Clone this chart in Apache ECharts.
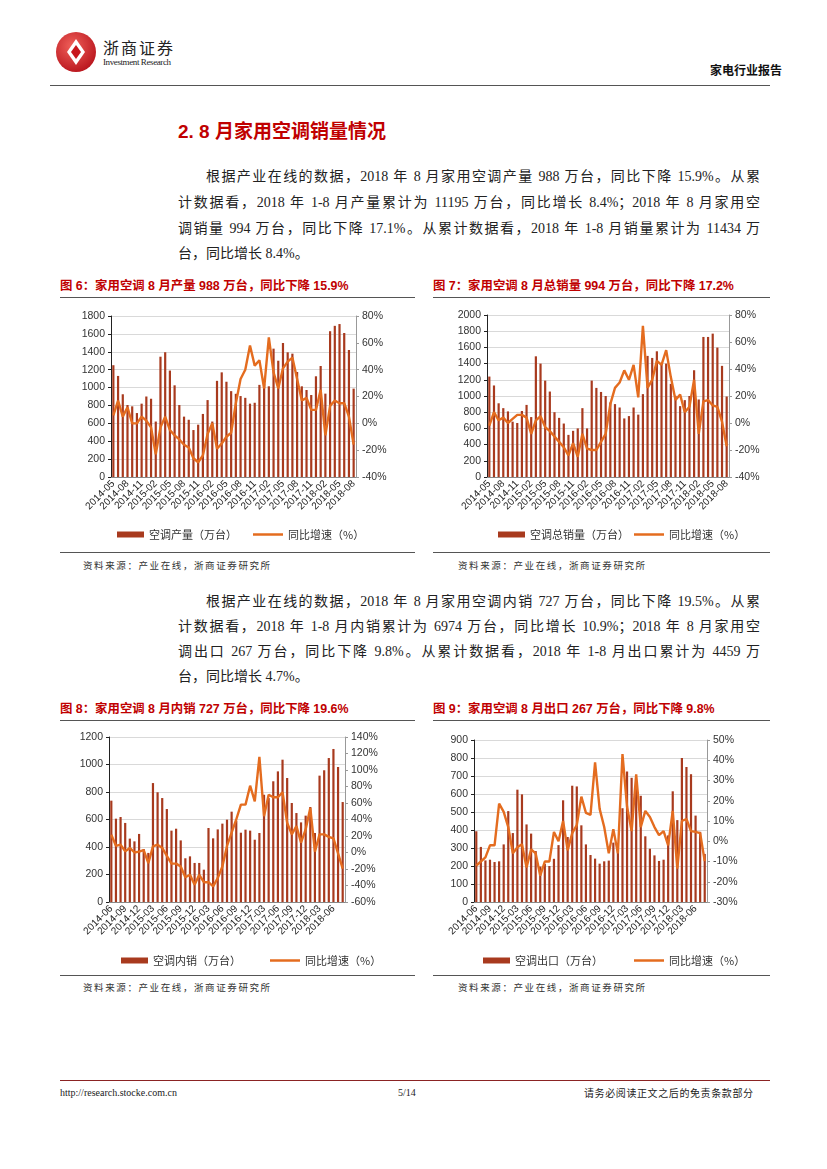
<!DOCTYPE html>
<html><head><meta charset="utf-8">
<script src="https://cdn.jsdelivr.net/npm/echarts@6/dist/echarts.min.js"></script>
<style>
html,body{margin:0;padding:0;background:#fff;}
body{width:827px;height:1169px;position:relative;overflow:hidden;font-family:"Liberation Serif","Noto Sans CJK SC",serif;color:#222;}
.a{position:absolute;white-space:nowrap;}
.hr{position:absolute;height:0;border-top:1px solid #555;}
.p{position:absolute;font-size:14px;line-height:18px;color:#222;font-family:"Liberation Serif","Noto Sans CJK SC",serif;text-align:justify;text-align-last:justify;white-space:nowrap;}
.ft{position:absolute;font-size:12.4px;line-height:14px;font-weight:bold;color:#C00000;font-family:"Liberation Sans","Noto Sans CJK SC",sans-serif;white-space:nowrap;}
.src{position:absolute;font-size:9.5px;line-height:12px;color:#333;letter-spacing:1.6px;font-family:"Noto Sans CJK SC",sans-serif;white-space:nowrap;}
.ch{position:absolute;}
</style></head>
<body>
<!-- header -->
<svg class="a" style="left:54px;top:30px" width="44" height="44" viewBox="0 0 44 44">
  <defs><radialGradient id="lg" cx="40%" cy="35%" r="70%"><stop offset="0" stop-color="#F0605A"/><stop offset="1" stop-color="#B8141C"/></radialGradient></defs>
  <circle cx="22" cy="22" r="20" fill="url(#lg)"/>
  <path d="M22 9 L31 22 L22 35 L13 22 Z" fill="#fff"/>
  <path d="M22 15 L27 22 L22 29 L17 22 Z" fill="#C8161D"/>
</svg>
<div class="a" style="left:103px;top:38px;font-size:16px;line-height:18px;font-family:'Noto Sans CJK SC';letter-spacing:2px;color:#222;">浙商证券</div>
<div class="a" style="left:103px;top:57px;font-size:9px;line-height:11px;font-family:'Liberation Serif';color:#222;letter-spacing:-0.4px;">Investment Research</div>
<div class="a" style="left:710px;top:62px;font-size:12px;line-height:15px;font-weight:bold;font-family:'Noto Sans CJK SC';color:#111;">家电行业报告</div>
<div class="hr" style="left:50px;top:85px;width:720px;border-top:1px solid #555;"></div>

<div class="a" style="left:178px;top:120px;font-size:19px;line-height:24px;font-weight:bold;color:#C00000;font-family:'Liberation Sans','Noto Sans CJK SC';">2. 8 月家用空调销量情况</div>

<div class="p" style="left:206px;top:168px;width:554px;">根据产业在线的数据，2018 年 8 月家用空调产量 988 万台，同比下降 15.9%。从累</div>
<div class="p" style="left:178px;top:194px;width:582px;">计数据看，2018 年 1-8 月产量累计为 11195 万台，同比增长 8.4%；2018 年 8 月家用空</div>
<div class="p" style="left:178px;top:220px;width:582px;">调销量 994 万台，同比下降 17.1%。从累计数据看，2018 年 1-8 月销量累计为 11434 万</div>
<div class="p" style="left:178px;top:245px;text-align-last:auto;">台，同比增长 8.4%。</div>

<div class="ft" style="left:60px;top:279px;">图 6：家用空调 8 月产量 988 万台，同比下降 15.9%</div>
<div class="ft" style="left:433px;top:279px;">图 7：家用空调 8 月总销量 994 万台，同比下降 17.2%</div>
<div class="hr" style="left:60px;top:297px;width:355px;"></div>
<div class="hr" style="left:433px;top:297px;width:337px;"></div>

<div id="c1" class="ch" style="left:20px;top:300px;width:400px;height:250px;"></div>
<div id="c2" class="ch" style="left:420px;top:300px;width:365px;height:250px;"></div>

<div class="hr" style="left:60px;top:552px;width:355px;"></div>
<div class="hr" style="left:433px;top:552px;width:337px;"></div>
<div class="src" style="left:83px;top:559px;">资料来源：产业在线，浙商证券研究所</div>
<div class="src" style="left:458px;top:559px;">资料来源：产业在线，浙商证券研究所</div>

<div class="p" style="left:206px;top:593px;width:554px;">根据产业在线的数据，2018 年 8 月家用空调内销 727 万台，同比下降 19.5%。从累</div>
<div class="p" style="left:178px;top:618px;width:582px;">计数据看，2018 年 1-8 月内销累计为 6974 万台，同比增长 10.9%；2018 年 8 月家用空</div>
<div class="p" style="left:178px;top:643px;width:582px;">调出口 267 万台，同比下降 9.8%。从累计数据看，2018 年 1-8 月出口累计为 4459 万</div>
<div class="p" style="left:178px;top:668px;text-align-last:auto;">台，同比增长 4.7%。</div>

<div class="ft" style="left:60px;top:702px;">图 8：家用空调 8 月内销 727 万台，同比下降 19.6%</div>
<div class="ft" style="left:433px;top:702px;">图 9：家用空调 8 月出口 267 万台，同比下降 9.8%</div>
<div class="hr" style="left:60px;top:720px;width:355px;"></div>
<div class="hr" style="left:433px;top:720px;width:337px;"></div>

<div id="c3" class="ch" style="left:20px;top:722px;width:400px;height:250px;"></div>
<div id="c4" class="ch" style="left:420px;top:722px;width:365px;height:250px;"></div>

<div class="hr" style="left:60px;top:975px;width:355px;"></div>
<div class="hr" style="left:433px;top:975px;width:337px;"></div>
<div class="src" style="left:83px;top:981px;">资料来源：产业在线，浙商证券研究所</div>
<div class="src" style="left:458px;top:981px;">资料来源：产业在线，浙商证券研究所</div>

<div class="hr" style="left:60px;top:1080px;width:710px;border-top:1px solid #8B2323;"></div>
<div class="a" style="left:60px;top:1087px;font-size:10px;line-height:12px;font-family:'Liberation Serif';">http://research.stocke.com.cn</div>
<div class="a" style="left:398px;top:1087px;font-size:10px;line-height:12px;font-family:'Liberation Serif';">5/14</div>
<div class="a" style="left:584px;top:1087px;font-size:10px;line-height:12px;font-family:'Noto Sans CJK SC';letter-spacing:0.6px;">请务必阅读正文之后的免责条款部分</div>

<script>
// ---- categories ----
const monthsA = ['2014-05','2014-06','2014-07','2014-08','2014-09','2014-10','2014-11','2014-12',
 '2015-01','2015-02','2015-03','2015-04','2015-05','2015-06','2015-07','2015-08','2015-09','2015-10','2015-11','2015-12',
 '2016-01','2016-02','2016-03','2016-04','2016-05','2016-06','2016-07','2016-08','2016-09','2016-10','2016-11','2016-12',
 '2017-01','2017-02','2017-03','2017-04','2017-05','2017-06','2017-07','2017-08','2017-09','2017-10','2017-11','2017-12',
 '2018-01','2018-02','2018-03','2018-04','2018-05','2018-06','2018-07','2018-08'];
const monthsB = ['2014-06','2014-07','2014-08','2014-09','2014-10','2014-11','2014-12',
 '2015-01','2015-02','2015-03','2015-04','2015-05','2015-06','2015-07','2015-08','2015-09','2015-10','2015-11','2015-12',
 '2016-01','2016-02','2016-03','2016-04','2016-05','2016-06','2016-07','2016-08','2016-09','2016-10','2016-11','2016-12',
 '2017-01','2017-02','2017-03','2017-04','2017-05','2017-06','2017-07','2017-08','2017-09','2017-10','2017-11','2017-12',
 '2018-01','2018-02','2018-03','2018-04','2018-05','2018-06','2018-07','2018-08'];
// tick labels are shown on every third month, starting from the first category
const LABEL_STEP = 3;

// ---- Fig 6: production ----
const prodVol = [1250,1130,925,805,790,715,820,900,875,620,
 1345,1395,1190,1025,805,675,640,525,585,705,
 860,620,1075,1170,1065,960,930,905,885,820,
 830,1030,1040,1014,1435,1300,1498,1394,1379,1174,
 1014,973,917,1126,1241,932,1630,1690,1710,1610,
 1420,988];
const prodYoY = [6,17,5,12,0,0,5,2,-3,-23,
 -3,5,-5,-9,-12,-16,-18,-26,-29,-24,
 -8,0,-19,-15,-10,-7,15,33,40,58,
 43,47,26,64,38,26,41,46,49,33,
 17,19,10,10,25,-9,13,17,15,15,
 5,-15.9];

// ---- Fig 7: total sales ----
const salesVol = [1240,1130,910,850,810,683,667,815,890,740,
 1490,1400,1190,1055,800,730,660,520,570,600,
 850,600,1190,1100,1050,1000,920,900,858,723,
 752,858,770,1023,1495,1470,1552,1400,1400,1150,
 1002,875,949,1000,1318,957,1729,1729,1770,1598,
 1372,994];
const salesYoY = [-2,8,2,4,0,3,6,6,4,-8,
 2,5,-3,-6,-10,-14,-18,-24,-15,-25,
 -8,-19,-20,-20,-14,-8,14,26,30,39,
 32,43,19,72,26,32,46,43,54,34,
 17,21,8,12,32,-8,16,17,13,12,
 1,-17.2];

// ---- Fig 8: domestic ----
const domVol = [737,606,618,575,461,441,495,385,357,865,
 798,756,676,519,533,448,318,332,284,284,
 235,538,463,528,570,599,657,590,504,526,
 519,453,502,780,756,878,950,1035,902,720,
 647,579,628,691,502,919,958,1047,1113,982,
 727];
const domYoY = [21.6,8,9.5,1.4,5.5,0,1,3,-13,7.5,
 9.5,5.5,-4,-13.5,-13.5,-17,-30,-27,-39,-27,
 -36,-36,-41,-31,-17,8,24,40,58,58,
 81,62,116,44,70,67,67,73,36,22,
 32,12,28,54,1,22,22,19,17,-1,
 -19.6];

// ---- Fig 9: export ----
const expVol = [393,306,231,235,222,226,320,505,383,624,
 598,431,380,283,197,212,200,240,316,565,
 361,646,642,426,320,261,241,213,226,230,
 330,317,521,725,690,674,590,365,296,259,
 228,235,370,615,455,800,750,710,480,390,
 267];
const expYoY = [-12,-10,-8,-2,-2,18.6,14.5,7,-6,-3,
 -1.5,-13,-4,-6,-17,-10,-10,4.6,0,10,
 -4.5,4,8,22,14,13,39,16,7,-6,
 6,-6,43,17,5,33,7,15,12,7,
 3,5,-2,15,-13.5,10,11,5,4.6,4,
 -9.8];

const BAR = '#A83A1E', LINE = '#E46C1F';
const AXF = 'Liberation Sans';

function build(id, c) {
  const ch = echarts.init(document.getElementById(id));
  const lgText = {fontSize: 11, color: '#333', fontFamily: 'Noto Sans CJK SC'};
  ch.setOption({
    animation: false,
    grid: {left: c.grid[0], right: c.grid[1], top: c.grid[2], bottom: c.grid[3], containLabel: false},
    legend: [
      {data: [c.barName], left: c.leg[0], top: c.leg[2], padding: 0, icon: 'rect', itemWidth: 27, itemHeight: 6, textStyle: lgText},
      {data: [c.lineName], left: c.leg[1], top: c.leg[2], padding: 0, icon: 'rect', itemWidth: 30, itemHeight: 2.5, textStyle: lgText}
    ],
    xAxis: {
      type: 'category', data: c.cats,
      axisLine: {lineStyle: {color: '#888', width: 1}},
      axisTick: {interval: 2, length: 3, lineStyle: {color: '#888'}},
      axisLabel: {interval: 0, rotate: 45, fontSize: 10, color: '#222', fontFamily: AXF, margin: 5,
                  hideOverlap: false,
                  formatter: (v, i) => (i % LABEL_STEP === 0 ? v : '')}
    },
    yAxis: [
      {type: 'value', min: c.l[0], max: c.l[1], interval: c.l[2],
       axisLine: {show: true, lineStyle: {color: '#222'}},
       axisTick: {show: true, length: 3, lineStyle: {color: '#222'}},
       splitLine: {lineStyle: {color: '#D9D9D9'}},
       axisLabel: {fontSize: 10.5, color: '#333', fontFamily: AXF, margin: 6, formatter: v => String(v)}},
      {type: 'value', min: c.r[0], max: c.r[1], interval: c.r[2], position: 'right',
       axisLine: {show: true, lineStyle: {color: '#999'}},
       axisTick: {show: true, length: 3, lineStyle: {color: '#999'}},
       splitLine: {show: false},
       axisLabel: {fontSize: 10.5, color: '#333', fontFamily: AXF, margin: 6, formatter: v => v + '%'}}
    ],
    series: [
      {name: c.barName, type: 'bar', data: c.bar, barWidth: 2.2, itemStyle: {color: BAR}},
      {name: c.lineName, type: 'line', yAxisIndex: 1, data: c.line, symbol: 'none', lineStyle: {width: 2.4, color: LINE}, itemStyle: {color: LINE}}
    ]
  });
}

// chart divs: c1/c3 start at x=20, c2/c4 at x=420
build('c1', {cats: monthsA, bar: prodVol, line: prodYoY, barName: '空调产量（万台）', lineName: '同比增速（%）',
  grid: [91, 64, 16, 73], leg: [97, 233, 229], l: [0, 1800, 200], r: [-40, 80, 20]});
build('c2', {cats: monthsA, bar: salesVol, line: salesYoY, barName: '空调总销量（万台）', lineName: '同比增速（%）',
  grid: [67, 56, 15, 73], leg: [78, 214, 229], l: [0, 2000, 200], r: [-40, 80, 20]});
build('c3', {cats: monthsB, bar: domVol, line: domYoY, barName: '空调内销（万台）', lineName: '同比增速（%）',
  grid: [89, 75, 15, 70], leg: [101, 250, 233], l: [0, 1200, 200], r: [-60, 140, 20]});
build('c4', {cats: monthsB, bar: expVol, line: expYoY, barName: '空调出口（万台）', lineName: '同比增速（%）',
  grid: [54, 78, 18, 70], leg: [63, 214, 233], l: [0, 900, 100], r: [-30, 50, 10]});
</script>
</body></html>
